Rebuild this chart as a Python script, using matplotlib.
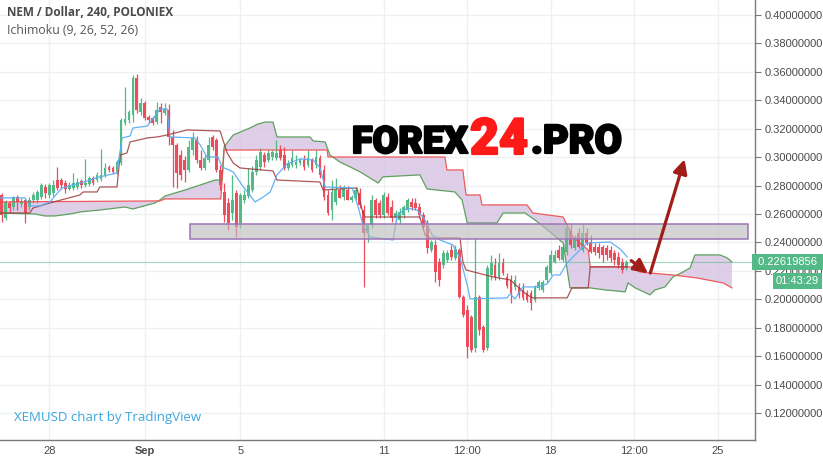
import numpy as np
import matplotlib.pyplot as plt
import matplotlib.patheffects as pe
from matplotlib.patches import Rectangle
from matplotlib.transforms import blended_transform_factory

# 4h candles, bar 0 = Aug 28 00:00, first visible bar is -12
FIRST_BAR = -12

OPEN = [0.2734, 0.2572, 0.2678, 0.2649, 0.2720, 0.2671, 0.2699, 0.2649, 0.2699, 0.2699,
        0.2720, 0.2790, 0.2734, 0.2748, 0.2839, 0.2839, 0.2818, 0.2776, 0.2783, 0.2790,
        0.2832, 0.2804, 0.2811, 0.2853, 0.2839, 0.2846, 0.2875, 0.2931, 0.2924, 0.2889,
        0.2959, 0.3240, 0.3261, 0.3297, 0.3557, 0.3318, 0.3381, 0.3283, 0.3276, 0.3247,
        0.3353, 0.3311, 0.3332, 0.3142, 0.3086, 0.3015, 0.2980, 0.2910, 0.3050, 0.3121,
        0.2980, 0.2924, 0.2980, 0.3142, 0.3121, 0.2910, 0.2755, 0.2678, 0.2607, 0.2748,
        0.2537, 0.2699, 0.2727, 0.2769, 0.2896, 0.2931, 0.3015, 0.2980, 0.3001, 0.2994,
        0.3050, 0.3015, 0.2924, 0.2945, 0.2945, 0.2959, 0.2980, 0.2945, 0.2980, 0.2945,
        0.2994, 0.2910, 0.2734, 0.2628, 0.2685, 0.2769, 0.2720, 0.2769, 0.2699, 0.2713,
        0.2748, 0.2628, 0.2467, 0.2523, 0.2699, 0.2678, 0.2593, 0.2720, 0.2649, 0.2572,
        0.2558, 0.2593, 0.2628, 0.2685, 0.2678, 0.2649, 0.2593, 0.2523, 0.2347, 0.2382,
        0.2263, 0.2242, 0.2277, 0.2347, 0.2291, 0.2347, 0.2017, 0.1925, 0.1876, 0.1658,
        0.2017, 0.1805, 0.1658, 0.2171, 0.2242, 0.2157, 0.2256, 0.2157, 0.2136, 0.2087,
        0.2087, 0.2066, 0.2045, 0.2045, 0.1995, 0.2080, 0.2066, 0.2136, 0.2185, 0.2263,
        0.2347, 0.2277, 0.2333, 0.2488, 0.2361, 0.2467, 0.2347, 0.2467, 0.2403, 0.2368,
        0.2368, 0.2368, 0.2361, 0.2347, 0.2326, 0.2298, 0.2263, 0.2221]
HIGH = [0.2748, 0.2699, 0.2692, 0.2727, 0.2734, 0.2713, 0.2706, 0.2720, 0.2755, 0.2769,
        0.2818, 0.2811, 0.2818, 0.2839, 0.2931, 0.2853, 0.2839, 0.2825, 0.2889, 0.2853,
        0.2846, 0.2987, 0.2868, 0.2868, 0.2896, 0.3057, 0.2959, 0.2945, 0.2938, 0.2980,
        0.3276, 0.3494, 0.3332, 0.3578, 0.3585, 0.3416, 0.3395, 0.3297, 0.3290, 0.3388,
        0.3381, 0.3381, 0.3374, 0.3191, 0.3100, 0.3050, 0.3008, 0.3121, 0.3177, 0.3149,
        0.3050, 0.3015, 0.3142, 0.3156, 0.3135, 0.2945, 0.2818, 0.2713, 0.2875, 0.2769,
        0.2748, 0.2769, 0.2924, 0.2938, 0.3015, 0.3065, 0.3036, 0.3050, 0.3050, 0.3121,
        0.3086, 0.3072, 0.2980, 0.3050, 0.3015, 0.2994, 0.3015, 0.3050, 0.2994, 0.3050,
        0.3015, 0.2945, 0.2769, 0.2839, 0.2853, 0.2804, 0.2804, 0.2797, 0.2734, 0.2790,
        0.2783, 0.2664, 0.2523, 0.2734, 0.2713, 0.2699, 0.2755, 0.2748, 0.2699, 0.2628,
        0.2642, 0.2664, 0.2713, 0.2713, 0.2713, 0.2678, 0.2614, 0.2558, 0.2417, 0.2417,
        0.2291, 0.2347, 0.2347, 0.2382, 0.2382, 0.2361, 0.2031, 0.1960, 0.1890, 0.2431,
        0.2031, 0.1819, 0.2242, 0.2312, 0.2291, 0.2326, 0.2291, 0.2185, 0.2171, 0.2171,
        0.2115, 0.2115, 0.2066, 0.2066, 0.2101, 0.2136, 0.2136, 0.2242, 0.2347, 0.2347,
        0.2382, 0.2382, 0.2537, 0.2537, 0.2453, 0.2502, 0.2537, 0.2502, 0.2453, 0.2396,
        0.2396, 0.2382, 0.2382, 0.2375, 0.2347, 0.2333, 0.2291, 0.2277]
LOW = [0.2544, 0.2558, 0.2614, 0.2628, 0.2628, 0.2649, 0.2537, 0.2628, 0.2678, 0.2678,
       0.2706, 0.2713, 0.2713, 0.2727, 0.2769, 0.2776, 0.2748, 0.2769, 0.2769, 0.2776,
       0.2783, 0.2790, 0.2797, 0.2804, 0.2825, 0.2832, 0.2861, 0.2896, 0.2882, 0.2882,
       0.2945, 0.3226, 0.3240, 0.3247, 0.3311, 0.3297, 0.3261, 0.3240, 0.3226, 0.3233,
       0.3240, 0.3297, 0.3086, 0.2790, 0.2783, 0.2839, 0.2825, 0.2896, 0.3015, 0.2959,
       0.2910, 0.2910, 0.2966, 0.3050, 0.2896, 0.2769, 0.2544, 0.2488, 0.2558, 0.2438,
       0.2502, 0.2678, 0.2713, 0.2755, 0.2875, 0.2910, 0.2931, 0.2966, 0.2980, 0.2980,
       0.2980, 0.2910, 0.2910, 0.2931, 0.2924, 0.2945, 0.2910, 0.2931, 0.2896, 0.2924,
       0.2853, 0.2699, 0.2593, 0.2558, 0.2664, 0.2713, 0.2699, 0.2699, 0.2685, 0.2699,
       0.2642, 0.2087, 0.2403, 0.2502, 0.2572, 0.2572, 0.2572, 0.2593, 0.2544, 0.2544,
       0.2530, 0.2572, 0.2614, 0.2628, 0.2628, 0.2572, 0.2502, 0.2326, 0.2333, 0.2122,
       0.2094, 0.2221, 0.2263, 0.2277, 0.2277, 0.2010, 0.1876, 0.1587, 0.1630, 0.1630,
       0.1749, 0.1630, 0.1644, 0.2136, 0.2136, 0.2136, 0.2171, 0.2080, 0.1974, 0.2066,
       0.2010, 0.1995, 0.1981, 0.1925, 0.1981, 0.2066, 0.2052, 0.2122, 0.2171, 0.2256,
       0.2277, 0.2263, 0.2312, 0.2361, 0.2347, 0.2361, 0.2333, 0.2382, 0.2326, 0.2312,
       0.2291, 0.2263, 0.2277, 0.2263, 0.2242, 0.2221, 0.2185, 0.2206]
CLOSE = [0.2593, 0.2685, 0.2642, 0.2720, 0.2685, 0.2692, 0.2607, 0.2699, 0.2734, 0.2755,
         0.2804, 0.2748, 0.2804, 0.2804, 0.2783, 0.2804, 0.2776, 0.2804, 0.2818, 0.2825,
         0.2804, 0.2818, 0.2853, 0.2818, 0.2875, 0.2875, 0.2924, 0.2910, 0.2896, 0.2966,
         0.3261, 0.3269, 0.3318, 0.3557, 0.3332, 0.3381, 0.3276, 0.3261, 0.3240, 0.3332,
         0.3318, 0.3339, 0.3142, 0.3086, 0.2889, 0.2875, 0.2910, 0.3072, 0.3135, 0.2980,
         0.2924, 0.2994, 0.3086, 0.3072, 0.2910, 0.2804, 0.2593, 0.2537, 0.2699, 0.2509,
         0.2734, 0.2734, 0.2804, 0.2896, 0.2980, 0.3036, 0.2966, 0.3029, 0.3036, 0.3029,
         0.2994, 0.2924, 0.2959, 0.2994, 0.2966, 0.2980, 0.2931, 0.2994, 0.2910, 0.3001,
         0.2875, 0.2720, 0.2607, 0.2755, 0.2769, 0.2713, 0.2783, 0.2699, 0.2720, 0.2769,
         0.2664, 0.2467, 0.2523, 0.2699, 0.2593, 0.2593, 0.2734, 0.2607, 0.2572, 0.2607,
         0.2614, 0.2649, 0.2699, 0.2649, 0.2642, 0.2593, 0.2509, 0.2361, 0.2403, 0.2192,
         0.2136, 0.2326, 0.2326, 0.2298, 0.2354, 0.2017, 0.1890, 0.1665, 0.1644, 0.2017,
         0.1784, 0.1644, 0.2221, 0.2256, 0.2157, 0.2256, 0.2185, 0.2094, 0.2045, 0.2136,
         0.2031, 0.2010, 0.1995, 0.1974, 0.2087, 0.2122, 0.2122, 0.2228, 0.2312, 0.2312,
         0.2291, 0.2368, 0.2502, 0.2382, 0.2431, 0.2368, 0.2467, 0.2396, 0.2333, 0.2333,
         0.2326, 0.2312, 0.2312, 0.2291, 0.2277, 0.2242, 0.2206, 0.2262]
LAST_PRICE = 0.22619856
COUNTDOWN = '01:43:29'

# Ichimoku lines, vertices as (bar, price)
TENKAN_X = [-12.4, -6.1, -4.9, -2.3, 0.2, 1.4, 3.2, 9.5, 12.7, 17.0, 17.5, 18.3, 20.3, 21.0,
            24.6, 26.6, 27.8, 29.6, 30.3, 36.6, 37.9, 39.6, 42.4, 43.4, 46.2, 48.4, 51.7,
            53.4, 55.5, 57.2, 59.7, 63.0, 66.3, 68.0, 69.3, 76.1, 77.6, 78.8, 80.6, 86.4,
            87.4, 89.9, 92.4, 94.4, 96.2, 98.2, 101.4, 103.2, 105.0, 105.7, 115.0, 115.8,
            117.0, 119.0, 122.5, 125.1, 126.6, 128.3, 130.1, 131.6, 135.1, 140.9, 143.4, 145.2]
TENKAN_Y = [0.2713, 0.2713, 0.2657, 0.2657, 0.2685, 0.2727, 0.2783, 0.2832, 0.2861, 0.2889,
            0.2994, 0.3135, 0.3149, 0.3205, 0.3219, 0.3290, 0.3339, 0.3339, 0.3142, 0.3135,
            0.3086, 0.3001, 0.3001, 0.2931, 0.2896, 0.2804, 0.2685, 0.2713, 0.2755, 0.2875,
            0.2952, 0.2987, 0.2980, 0.2924, 0.2790, 0.2783, 0.2649, 0.2523, 0.2438, 0.2417,
            0.2593, 0.2642, 0.2628, 0.2558, 0.2453, 0.2417, 0.2382, 0.2291, 0.2101, 0.2003,
            0.2010, 0.2038, 0.2003, 0.2087, 0.2087, 0.2108, 0.2171, 0.2171, 0.2256, 0.2298,
            0.2396, 0.2403, 0.2354, 0.2298]

KIJUN_X = [-12.4, -4.9, -4.1, 0.2, 7.7, 8.5, 12.0, 12.7, 17.0, 17.8, 19.5, 20.3, 24.6, 27.1,
           29.6, 34.6, 42.9, 44.7, 46.2, 47.9, 56.2, 57.2, 68.0, 68.8, 77.3, 78.6, 79.3,
           93.1, 94.4, 95.7, 103.2, 103.9, 104.7, 111.5, 115.8, 120.0, 121.5, 130.1, 131.3,
           135.4, 135.9, 145.2]
KIJUN_Y = [0.2607, 0.2607, 0.2642, 0.2678, 0.2734, 0.2755, 0.2755, 0.2790, 0.2790, 0.3015,
           0.3029, 0.3107, 0.3135, 0.3142, 0.3156, 0.3191, 0.3184, 0.3029, 0.2959, 0.2924,
           0.2903, 0.2839, 0.2825, 0.2769, 0.2783, 0.2628, 0.2579, 0.2579, 0.2453, 0.2431,
           0.2431, 0.2263, 0.2206, 0.2157, 0.2136, 0.2031, 0.2010, 0.2010, 0.2080, 0.2080,
           0.2228, 0.2228]

SPAN_A_X = [-12.4, -3.6, -1.1, 1.4, 5.2, 7.7, 12.7, 19.0, 21.0, 22.8, 26.6, 27.8, 29.1, 34.1,
            37.9, 41.6, 43.4, 43.9, 46.2, 50.4, 52.4, 54.2, 56.2, 57.2, 65.5, 66.3, 69.3,
            70.5, 73.0, 75.6, 78.1, 82.6, 83.8, 93.1, 94.9, 101.9, 103.7, 105.0, 112.5,
            114.0, 119.5, 122.0, 124.6, 127.6, 129.1, 130.8, 135.9, 139.6, 144.7, 145.4,
            147.2, 150.9, 152.2, 154.7, 156.7, 159.2, 161.0, 162.2, 168.5, 170.3, 171.5]
SPAN_A_Y = [0.2607, 0.2600, 0.2586, 0.2586, 0.2600, 0.2614, 0.2628, 0.2649, 0.2635, 0.2649,
            0.2678, 0.2699, 0.2727, 0.2769, 0.2804, 0.2839, 0.2839, 0.3072, 0.3156, 0.3205,
            0.3233, 0.3247, 0.3247, 0.3142, 0.3142, 0.3114, 0.3107, 0.3015, 0.2966, 0.2931,
            0.2896, 0.2818, 0.2861, 0.2875, 0.2776, 0.2755, 0.2699, 0.2537, 0.2537, 0.2607,
            0.2607, 0.2558, 0.2502, 0.2431, 0.2396, 0.2080, 0.2080, 0.2066, 0.2052, 0.2115,
            0.2080, 0.2031, 0.2066, 0.2087, 0.2157, 0.2192, 0.2221, 0.2312, 0.2312, 0.2291,
            0.2263]

SPAN_B_X = [-12.4, 27.8, 29.1, 43.1, 43.9, 69.8, 70.0, 99.4, 99.9, 103.9, 104.7, 108.2,
            108.7, 120.0, 121.5, 129.1, 131.6, 135.4, 135.9, 146.4, 148.4, 150.9, 156.7,
            162.7, 169.3, 171.5]
SPAN_B_Y = [0.2685, 0.2692, 0.2706, 0.2706, 0.3050, 0.3050, 0.3001, 0.3001, 0.2910, 0.2910,
            0.2734, 0.2734, 0.2664, 0.2664, 0.2607, 0.2579, 0.2438, 0.2347, 0.2228, 0.2228,
            0.2192, 0.2185, 0.2171, 0.2150, 0.2115, 0.2080]

# support zone and arrows drawn on the chart
ZONE_BARS = [35.4, 175.6]
ZONE_PRICES = [0.2423, 0.2529]
ARROW_1 = [(146.2, 0.2272), (150.4, 0.2183)]
ARROW_2 = [(151.0, 0.2185), (159.6, 0.2985)]

TICK_BARS = [0, 24, 48, 84, 105, 126, 147, 168]
TICK_LABELS = ['28', 'Sep', '5', '11', '12:00', '18', '12:00', '25']
PRICE_TICKS = [0.12, 0.14, 0.16, 0.18, 0.20, 0.22, 0.24, 0.26, 0.28, 0.30, 0.32,
               0.34, 0.36, 0.38, 0.40]

UP = '#53b987'
DOWN = '#eb4d5c'
GRID = '#eef1f4'
TEXT = '#4a4a4a'

W, H = 823, 458
fig = plt.figure(figsize=(W / 100, H / 100), dpi=100)
fig.patch.set_facecolor('white')
ax = fig.add_axes([0, 18 / H, 755 / W, 440 / H])
ax.set_xlim(-12.39, 177.3)
ax.set_ylim(0.1010, 0.41055)

o = np.array(OPEN)
h = np.array(HIGH)
l = np.array(LOW)
c = np.array(CLOSE)
bars = np.arange(len(c)) + FIRST_BAR
colors = np.where(c >= o, UP, DOWN)

# cloud
cloud_x = np.concatenate([SPAN_A_X, SPAN_B_X[::-1]])
cloud_y = np.concatenate([SPAN_A_Y, SPAN_B_Y[::-1]])
ax.fill(cloud_x, cloud_y, color='#d6c2e3', alpha=0.8, lw=0, zorder=1)

ax.axhline(LAST_PRICE, color=UP, lw=0.8, alpha=0.55, zorder=1.5)

# candles
ax.vlines(bars, l, h, colors=colors, lw=0.9, zorder=3)
ax.bar(bars, np.abs(c - o), bottom=np.minimum(o, c), width=0.7, color=colors,
       lw=0, zorder=3.1)

ax.plot(SPAN_A_X, SPAN_A_Y, color='#4f9a4f', lw=0.9, alpha=0.9, zorder=3.5)
ax.plot(SPAN_B_X, SPAN_B_Y, color='#ef4b4b', lw=0.9, alpha=0.9, zorder=3.5)
ax.plot(KIJUN_X, KIJUN_Y, color='#a03a3a', lw=0.9, alpha=0.85, zorder=3.6)
ax.plot(TENKAN_X, TENKAN_Y, color='#5aaef5', lw=0.9, alpha=0.95, zorder=3.7)

ax.add_patch(Rectangle((ZONE_BARS[0], ZONE_PRICES[0]), ZONE_BARS[1] - ZONE_BARS[0],
                       ZONE_PRICES[1] - ZONE_PRICES[0], facecolor='#bababa', alpha=0.62,
                       edgecolor='none', zorder=4))
ax.add_patch(Rectangle((ZONE_BARS[0], ZONE_PRICES[0]), ZONE_BARS[1] - ZONE_BARS[0],
                       ZONE_PRICES[1] - ZONE_PRICES[0], facecolor='none',
                       edgecolor='#9d74b5', lw=1.1, zorder=4.1))

for start, end in (ARROW_1, ARROW_2):
    ax.annotate('', xy=end, xytext=start,
                arrowprops=dict(arrowstyle='-|>', color='#a11d17', lw=2.3,
                                mutation_scale=21, shrinkA=0, shrinkB=0),
                zorder=5)

# axes styling
ax.set_xticks(TICK_BARS)
ax.set_xticklabels(TICK_LABELS)
ax.set_yticks(PRICE_TICKS)
ax.set_yticklabels([f'{v:.8f}' for v in PRICE_TICKS])
ax.yaxis.tick_right()
ax.grid(True, color=GRID, lw=1, zorder=0)
ax.set_axisbelow(True)
for side in ('top', 'left'):
    ax.spines[side].set_visible(False)
for side in ('right', 'bottom'):
    ax.spines[side].set_color('#7a7a7a')
    ax.spines[side].set_linewidth(1)
ax.tick_params(axis='y', length=4, width=0.8, color='#7a7a7a', pad=3,
               labelsize=8, labelcolor=TEXT)
ax.tick_params(axis='x', length=0, pad=4, labelsize=8, labelcolor=TEXT)
for lab in ax.get_xticklabels() + ax.get_yticklabels():
    lab.set_fontfamily('Liberation Sans')
ax.get_xticklabels()[1].set_fontweight('bold')

# price label and countdown
tr = blended_transform_factory(ax.transAxes, ax.transData)
ax.text(1.0, LAST_PRICE, f' {LAST_PRICE:.8f} ', transform=tr, ha='left', va='center',
        fontsize=8, family='Liberation Sans', color='white', clip_on=False, zorder=10,
        bbox=dict(boxstyle='square,pad=0.25', fc=UP, ec='none'))
ax.annotate(COUNTDOWN, xy=(1.0, LAST_PRICE), xycoords=tr, xytext=(21, -19),
            textcoords='offset pixels', ha='left', va='center', fontsize=8,
            family='Liberation Sans', color='white', annotation_clip=False, zorder=10,
            bbox=dict(boxstyle='square,pad=0.3', fc=UP, ec='none'))

# header texts
fig.text(7 / W, 1 - 13 / H, 'NEM / Dollar, 240, POLONIEX', ha='left', va='center',
         fontsize=8.5, fontweight='bold', family='Open Sans', color=TEXT)
fig.text(7 / W, 1 - 30 / H, 'Ichimoku (9, 26, 52, 26)', ha='left', va='center',
         fontsize=8.8, family='Open Sans', color='#555555')
fig.text(14 / W, 1 - 418 / H, 'XEMUSD chart by TradingView', ha='left', va='center',
         fontsize=9.5, family='Open Sans', color='#3ca6e0')

# watermark
heavy_k = [pe.withStroke(linewidth=1.6, foreground='black')]
heavy_r = [pe.withStroke(linewidth=1.6, foreground='#ff1a1a')]
fig.text(352 / W, 1 - 153 / H, 'FOREX', ha='left', va='baseline', fontsize=27,
         fontweight='black', family='Roboto', color='black', zorder=8,
         path_effects=heavy_k)
fig.text(470 / W, 1 - 154 / H, '24', ha='left', va='baseline', fontsize=36,
         fontweight='black', family='Roboto', color='#ff1a1a', zorder=8,
         path_effects=heavy_r)
fig.text(531 / W, 1 - 153 / H, '.PRO', ha='left', va='baseline', fontsize=28.5,
         fontweight='black', family='Roboto', color='black', zorder=8,
         path_effects=heavy_k)

fig.savefig('out.png', dpi=100)
